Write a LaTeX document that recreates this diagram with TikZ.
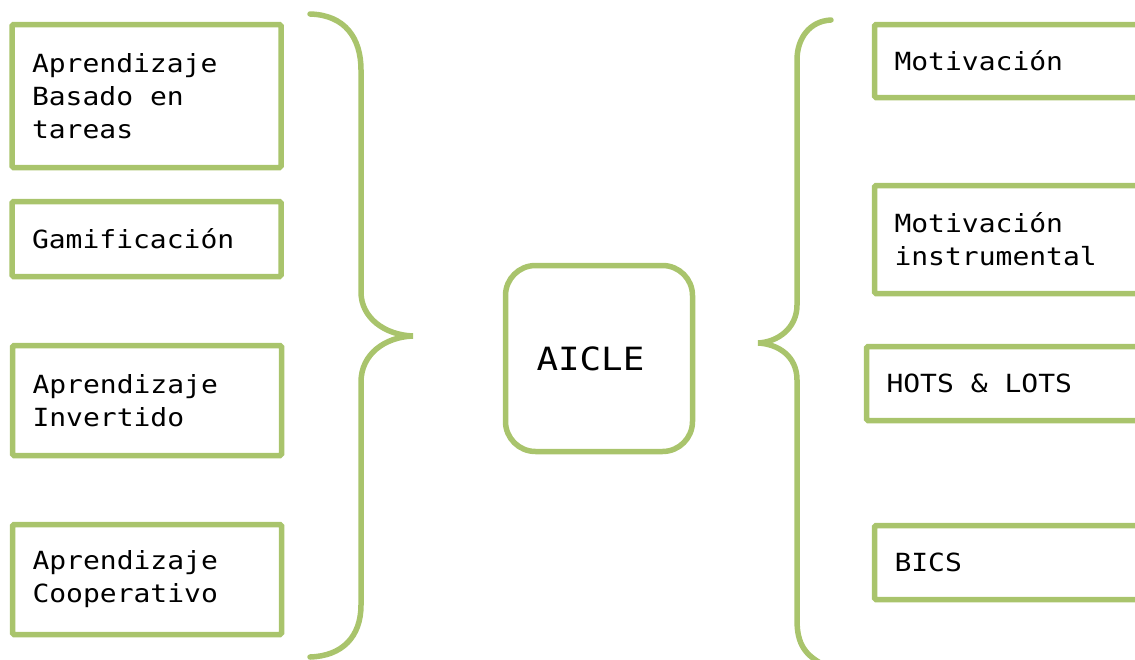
\documentclass[tikz,border=0pt]{standalone}
\usepackage{fontspec}
\newfontfamily\handfont[FakeStretch=1.12]{DejaVu Sans Mono}
\newcommand\boxfont{\handfont\fontsize{25}{33}\selectfont}
\newcommand\bigboxfont{\handfont\fontsize{32}{38}\selectfont}
\newcommand\gap{\hspace*{16.9pt}}
\definecolor{lgreen}{RGB}{169,196,108}
\begin{document}
\begin{tikzpicture}[x=1pt,y=-1pt,
  box/.style={draw=lgreen, line width=5.5pt, rounded corners=1.5pt, inner xsep=20pt, inner ysep=0pt, align=left, font=\boxfont, anchor=center},
  lbox/.style={box, minimum width=269pt, text width=229pt},
  rbox/.style={box, minimum width=300pt, text width=260pt},
  brace/.style={draw=lgreen, line width=5.5pt, line cap=round}
]
\useasboundingbox (0,0) rectangle (1135,659);
\clip (0,0) rectangle (1135,659);
% left boxes
\node[lbox, minimum height=143pt] (l1) at (146.5,96) {Aprendizaje\\Basado\gap en\\tareas};
\node[lbox, minimum height=75pt] (l2) at (146.5,239) {Gamificación};
\node[lbox, minimum height=110pt] (l3) at (147,400.5) {Aprendizaje\\Invertido};
\node[lbox, minimum height=110pt] (l4) at (147,579.5) {Aprendizaje\\Cooperativo};
% centre
\node[draw=lgreen, line width=5.5pt, rounded corners=30pt, minimum width=187pt, minimum height=186pt, font=\bigboxfont, inner xsep=0pt, text width=187pt, align=left] (c) at (599,358.5) {\hspace*{31pt}AICLE};
% right boxes
\node[rbox, minimum height=73pt] (r1) at (1024.5,61) {Motivación};
\node[rbox, minimum height=108pt] (r2) at (1024.5,239.5) {Motivación\\instrumental};
\node[rbox, minimum height=74pt] (r3) at (1016.5,383.5) {HOTS\gap\&\gap LOTS};
\node[rbox, minimum height=74pt] (r4) at (1024.5,562.5) {BICS};
% braces
\draw[brace] (310,14) .. controls (345,15) and (361,38) .. (361,70) -- (361,292)
  .. controls (361,318) and (385,335) .. (413,336)
  .. controls (385,337) and (361,354) .. (361,382) -- (361,605)
  .. controls (361,637) and (342,656) .. (310,657);
\draw[brace] (831,20) .. controls (810,21) and (797,38) .. (797,60) -- (797,305)
  .. controls (797,328) and (778,342) .. (758,343)
  .. controls (778,344) and (797,356) .. (797,380) -- (797,620)
  .. controls (797,645) and (806,655) .. (822,664);
\end{tikzpicture}
\end{document}
